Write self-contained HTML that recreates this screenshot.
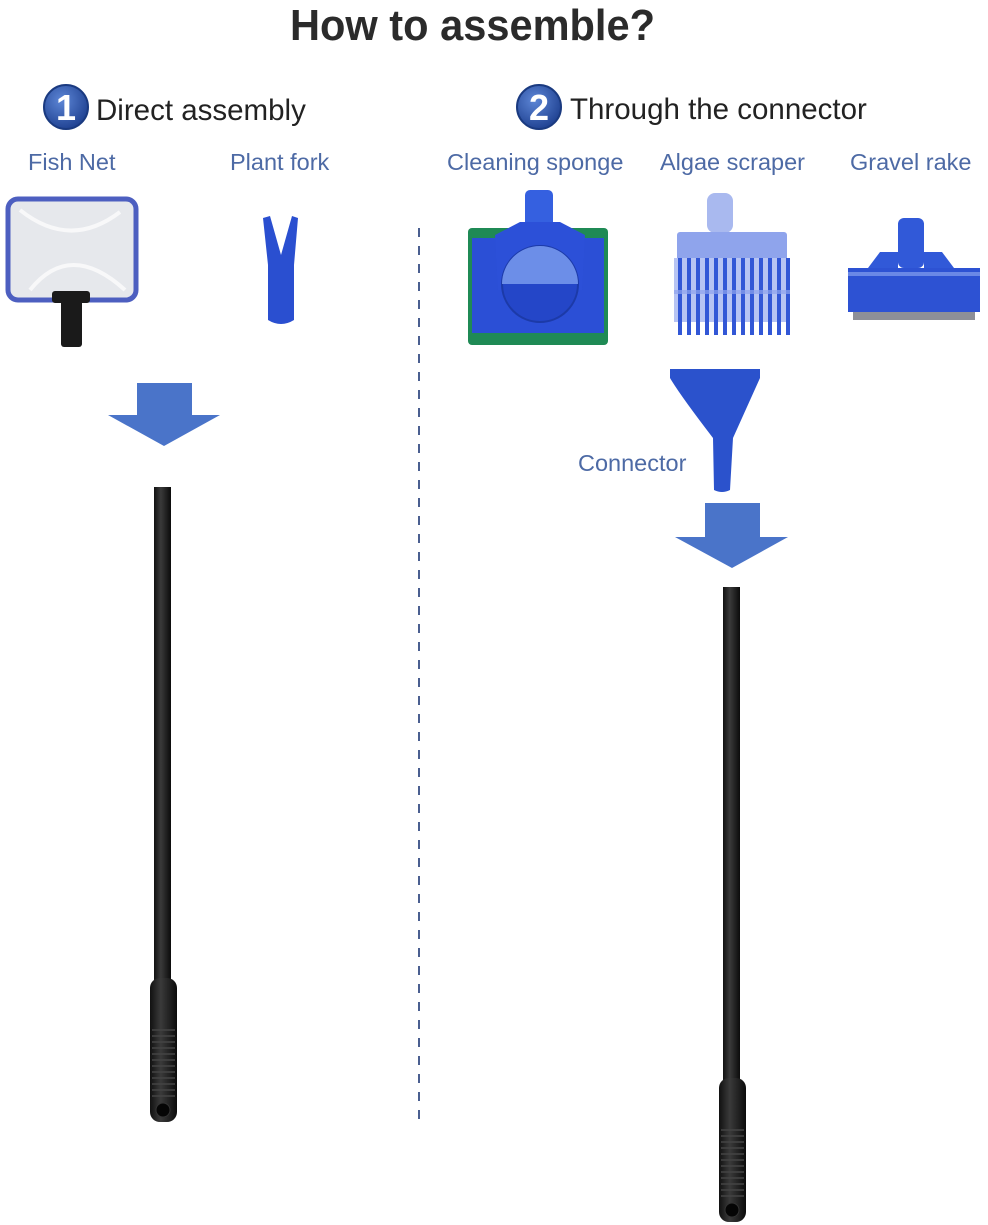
<!DOCTYPE html>
<html><head><meta charset="utf-8"><style>
html,body{margin:0;padding:0;background:#fff;}
svg{display:block;}
</style></head><body>
<svg width="988" height="1225" viewBox="0 0 988 1225" xmlns="http://www.w3.org/2000/svg">
<defs>
<radialGradient id="cg" cx="40%" cy="35%" r="70%"><stop offset="0" stop-color="#5d86d6"/><stop offset="1" stop-color="#1d3f8f"/></radialGradient>
<linearGradient id="pole" x1="0" x2="1"><stop offset="0" stop-color="#111"/><stop offset="0.4" stop-color="#3a3a3a"/><stop offset="1" stop-color="#0b0b0b"/></linearGradient>
</defs>
<text x="290" y="40" font-family="Liberation Sans, sans-serif" font-weight="bold" font-size="44" fill="#2b2b2b" textLength="365" lengthAdjust="spacingAndGlyphs">How to assemble?</text>

<circle cx="66" cy="107" r="22" fill="url(#cg)" stroke="#1a3a80" stroke-width="2"/>
<text x="66" y="120" text-anchor="middle" font-family="Liberation Sans, sans-serif" font-weight="bold" font-size="36" fill="#fff">1</text>
<text x="96" y="120" font-family="Liberation Sans, sans-serif" font-size="29.5" fill="#222">Direct assembly</text>
<circle cx="539" cy="107" r="22" fill="url(#cg)" stroke="#1a3a80" stroke-width="2"/>
<text x="539" y="120" text-anchor="middle" font-family="Liberation Sans, sans-serif" font-weight="bold" font-size="36" fill="#fff">2</text>
<text x="570" y="119" font-family="Liberation Sans, sans-serif" font-size="29.5" fill="#222">Through the connector</text>

<g font-family="Liberation Sans, sans-serif" font-size="23.5" fill="#4d6aa5">
<text x="28" y="170">Fish Net</text>
<text x="230" y="170">Plant fork</text>
<text x="447" y="170">Cleaning sponge</text>
<text x="660" y="170">Algae scraper</text>
<text x="850" y="170">Gravel rake</text>
<text x="578" y="471">Connector</text>
</g>

<line x1="419" y1="228" x2="419" y2="1122" stroke="#4a5f90" stroke-width="2" stroke-dasharray="9,9"/>

<rect x="8" y="199" width="128" height="101" rx="10" fill="#e6e8ec" stroke="#4d5fc0" stroke-width="5"/>
<path d="M20 210 Q70 250 120 212 M30 290 Q70 240 125 290" stroke="#fff" stroke-width="4" fill="none" opacity="0.7"/>
<rect x="52" y="291" width="38" height="12" rx="3" fill="#1a1a1a"/>
<rect x="61" y="300" width="21" height="47" rx="3" fill="#1a1a1a"/>

<path d="M263 218 L270 216 L281 255 L292 216 L298 218 L294 265 L294 320 Q281 328 268 320 L268 265 Z" fill="#2a4fd0"/>

<rect x="468" y="228" width="140" height="117" rx="4" fill="#1f8a55"/>
<rect x="472" y="238" width="132" height="95" fill="#2b4fd6"/>
<rect x="525" y="190" width="28" height="50" rx="5" fill="#3560e0"/>
<path d="M495 235 L520 222 L560 222 L585 235 L582 290 L498 290 Z" fill="#2c50d8"/>
<circle cx="540" cy="284" r="38" fill="#2446c8" stroke="#1c3aa8" stroke-width="2"/>
<path d="M502 284 A38 38 0 0 1 578 284 Z" fill="#6c8ee8"/>

<rect x="707" y="193" width="26" height="40" rx="8" fill="#a9b9ef"/>
<rect x="677" y="232" width="110" height="30" rx="3" fill="#8fa4ec"/>
<rect x="674" y="258" width="116" height="64" fill="#b7c4f3"/>
<g fill="#3257d6">
<rect x="678" y="258" width="4" height="77"/><rect x="687" y="258" width="4" height="77"/><rect x="696" y="258" width="4" height="77"/><rect x="705" y="258" width="4" height="77"/><rect x="714" y="258" width="4" height="77"/><rect x="723" y="258" width="4" height="77"/><rect x="732" y="258" width="4" height="77"/><rect x="741" y="258" width="4" height="77"/><rect x="750" y="258" width="4" height="77"/><rect x="759" y="258" width="4" height="77"/><rect x="768" y="258" width="4" height="77"/><rect x="777" y="258" width="4" height="77"/><rect x="786" y="258" width="4" height="77"/>
</g>
<rect x="674" y="290" width="116" height="4" fill="#8fa4ec" opacity="0.7"/>

<rect x="898" y="218" width="26" height="50" rx="6" fill="#3159d8"/>
<path d="M868 268 L880 252 L898 252 L898 268 Z M924 268 L924 252 L942 252 L954 268 Z" fill="#3159d8"/>
<rect x="848" y="268" width="132" height="44" fill="#2d52d3"/>
<rect x="848" y="272" width="132" height="4" fill="#6a88e6"/>
<rect x="853" y="312" width="122" height="8" fill="#8d8f98"/>

<path d="M670 369 L760 369 L760 378 L733 438 L730 490 Q722 494 714 490 L713 438 Q680 395 670 378 Z" fill="#2b52cc"/>

<path d="M137 383 L192 383 L192 415 L220 415 L164 446 L108 415 L137 415 Z" fill="#4a74c9"/>
<path d="M705 503 L760 503 L760 537 L788 537 L732 568 L675 537 L705 537 Z" fill="#4a74c9"/>

<rect x="154" y="487" width="17" height="495" fill="url(#pole)"/>
<rect x="150" y="978" width="27" height="144" rx="10" fill="url(#pole)"/>
<g stroke="#444" stroke-width="1.5">
<line x1="152" y1="1030" x2="175" y2="1030"/><line x1="152" y1="1036" x2="175" y2="1036"/><line x1="152" y1="1042" x2="175" y2="1042"/><line x1="152" y1="1048" x2="175" y2="1048"/><line x1="152" y1="1054" x2="175" y2="1054"/><line x1="152" y1="1060" x2="175" y2="1060"/><line x1="152" y1="1066" x2="175" y2="1066"/><line x1="152" y1="1072" x2="175" y2="1072"/><line x1="152" y1="1078" x2="175" y2="1078"/><line x1="152" y1="1084" x2="175" y2="1084"/><line x1="152" y1="1090" x2="175" y2="1090"/><line x1="152" y1="1096" x2="175" y2="1096"/>
</g>
<circle cx="163" cy="1110" r="7" fill="#050505" stroke="#333"/>

<rect x="723" y="587" width="17" height="495" fill="url(#pole)"/>
<rect x="719" y="1078" width="27" height="144" rx="10" fill="url(#pole)"/>
<g stroke="#444" stroke-width="1.5">
<line x1="721" y1="1130" x2="744" y2="1130"/><line x1="721" y1="1136" x2="744" y2="1136"/><line x1="721" y1="1142" x2="744" y2="1142"/><line x1="721" y1="1148" x2="744" y2="1148"/><line x1="721" y1="1154" x2="744" y2="1154"/><line x1="721" y1="1160" x2="744" y2="1160"/><line x1="721" y1="1166" x2="744" y2="1166"/><line x1="721" y1="1172" x2="744" y2="1172"/><line x1="721" y1="1178" x2="744" y2="1178"/><line x1="721" y1="1184" x2="744" y2="1184"/><line x1="721" y1="1190" x2="744" y2="1190"/><line x1="721" y1="1196" x2="744" y2="1196"/>
</g>
<circle cx="732" cy="1210" r="7" fill="#050505" stroke="#333"/>
</svg>
</body></html>
